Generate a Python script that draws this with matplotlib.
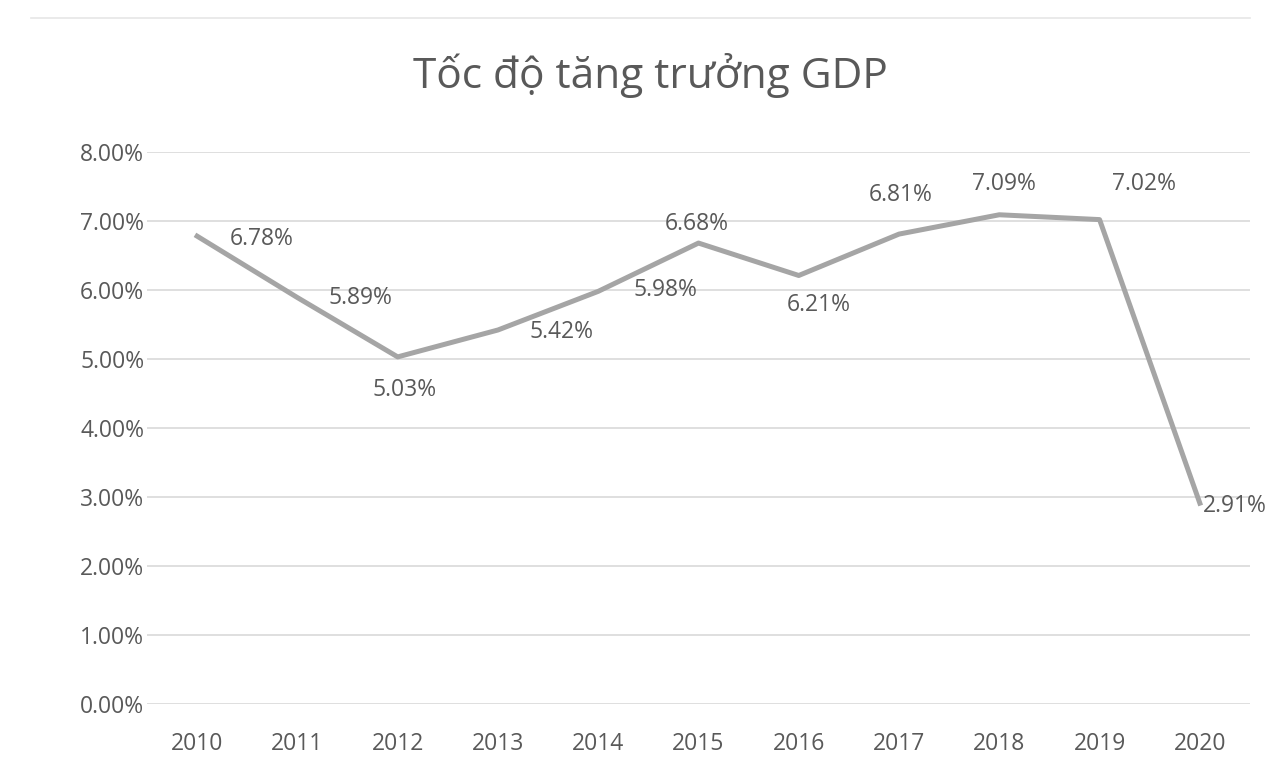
import matplotlib.pyplot as plt
from matplotlib.lines import Line2D
from matplotlib.ticker import FuncFormatter

plt.rcParams['font.family'] = ['Open Sans', 'Noto Sans', 'DejaVu Sans']

# data
years = ["2010", "2011", "2012", "2013", "2014", "2015",
         "2016", "2017", "2018", "2019", "2020"]
gdp_growth = [6.78, 5.89, 5.03, 5.42, 5.98, 6.68, 6.21, 6.81, 7.09, 7.02, 2.91]
y_ticks = [0, 1, 2, 3, 4, 5, 6, 7, 8]

# label placement (pixel offsets from the point, horizontal alignment)
label_offsets = [(33, -3, "left"), (31, 0, "left"), (7, -33, "center"),
                 (32, -2, "left"), (35, 1, "left"), (-2, 19, "center"),
                 (20, -30, "center"), (2, 39, "center"), (5, 31, "center"),
                 (44, 36, "center"), (3, -3, "left")]

TEXT = "#595959"
LINE = "#A5A5A5"
GRID = "#D9D9D9"

fig = plt.figure(figsize=(12.76, 7.77), dpi=100)
ax = fig.add_axes([0.1152, 0.094, 0.8644, 0.7104])

x = list(range(len(years)))
ax.plot(x, gdp_growth, color=LINE, linewidth=3.6, solid_joinstyle="round")

for xi, val, (dx, dy, ha) in zip(x, gdp_growth, label_offsets):
    ax.annotate(f"{val:.2f}%", (xi, val), xytext=(dx, dy),
                textcoords="offset pixels", ha=ha, va="center",
                fontsize=16.5, color=TEXT)

ax.set_xlim(-0.5, len(years) - 0.5)
ax.set_ylim(0, 8)
ax.set_xticks(x)
ax.set_xticklabels(years)
ax.set_yticks(y_ticks)
ax.yaxis.set_major_formatter(FuncFormatter(lambda v, _: f"{v:.2f}%"))
ax.tick_params(axis="both", length=0, labelsize=16.5, labelcolor=TEXT)
ax.tick_params(axis="x", pad=20)
ax.tick_params(axis="y", pad=2)
ax.grid(axis="y", color=GRID, linewidth=1.2)
ax.set_axisbelow(True)
for s in ax.spines.values():
    s.set_visible(False)

fig.text(0.51, 0.903, "Tốc độ tăng trưởng GDP", ha="center", va="center",
         fontsize=30.5, color=TEXT)

# faint separator line at the top of the picture
fig.add_artist(Line2D([0.024, 0.98], [0.977, 0.977], color="#E6E6E6",
                      linewidth=1.2, transform=fig.transFigure))

fig.savefig("out.png", dpi=100, facecolor="white")
